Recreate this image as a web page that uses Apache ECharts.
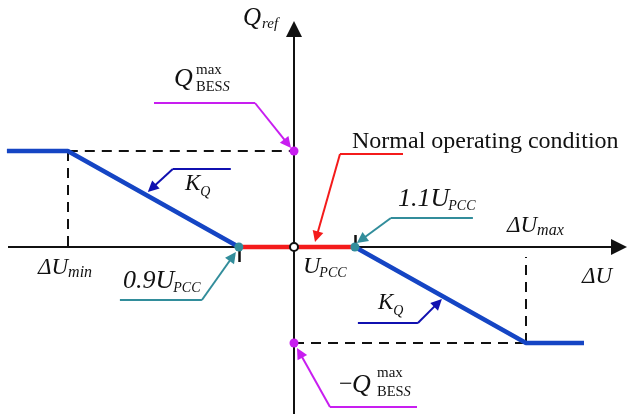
<!DOCTYPE html>
<html>
<head>
<meta charset="utf-8">
<script src="https://cdn.jsdelivr.net/npm/echarts@6/dist/echarts.min.js"></script>
<style>
  html, body { margin: 0; padding: 0; background: #fff; }
  #chart { width: 627px; height: 414px; }
</style>
</head>
<body>
<div id="chart"></div>
<script>
// Q-V droop characteristic of the BESS: breakpoints as voltage deviation (%)
// and reactive power normalised to Q_BESS^max.
const pointNames = ['start', 'dUmin', 'u09', 'u11', 'dUmax', 'end'];
const deviationU = [-49.5, -39, -9.5, 10.5, 40, 50];
const reactiveQ = [1, 1, 0, 0, -1, -1];
const limitQ = [1, -1];          // +Q_BESS^max and -Q_BESS^max on the Q axis

// Plane layout
const W = 627, H = 414;
const OX = 294, OY = 247;        // pixel position of the origin
const PX_U = 5.8, PX_Q = 96;     // pixels per unit along each axis
const toData = (px, py) => [(px - OX) / PX_U, (OY - py) / PX_Q];
const toPx = (u, q) => [OX + u * PX_U, OY - q * PX_Q];
const pt = i => [deviationU[i], reactiveQ[i]];
const idx = name => pointNames.indexOf(name);

const BLUE = '#1545c4', RED = '#f41b1b', TEAL = '#328d9b', MAGENTA = '#c81ef0', NAVY = '#1010b0', INK = '#111';

// Polyline with an arrowhead at its last point; pixel points in, data coords out.
function arrowPath(pxPts, headLen) {
  const plain = [], arrow = [];
  for (let i = 0; i < pxPts.length - 2; i++) {
    plain.push({ coords: [toData(...pxPts[i]), toData(...pxPts[i + 1])] });
  }
  const a = pxPts[pxPts.length - 2], b = pxPts[pxPts.length - 1];
  const dx = b[0] - a[0], dy = b[1] - a[1], len = Math.hypot(dx, dy);
  const end = [b[0] - dx / len * headLen / 2, b[1] - dy / len * headLen / 2];
  arrow.push({ coords: [toData(...a), toData(...end)] });
  return { plain, arrow };
}

// Leader lines: anchored at a point of the characteristic, bends given as pixel offsets.
const leaders = [
  { anchor: [0, limitQ[0]], color: MAGENTA, offs: [[-140, -48], [-39, -48], [-3, -3]] },
  { anchor: pt(idx('dUmin')), color: NAVY, offs: [[163, 18], [105, 18], [80, 41]] },
  { anchor: [0, 0], color: RED, offs: [[109, -93], [46, -93], [21, -5]] },
  { anchor: pt(idx('u11')), color: TEAL, offs: [[118, -29], [36, -29], [2, -4]] },
  { anchor: pt(idx('u09')), color: TEAL, offs: [[-119, 53], [-37, 53], [-3, 5]] },
  { anchor: pt(idx('u11')), color: NAVY, offs: [[3, 76], [63, 76], [87, 52]] },
  { anchor: [0, limitQ[1]], color: MAGENTA, offs: [[123, 64], [36, 64], [3, 5]] }
];

const leaderSeries = [];
leaders.forEach(l => {
  const base = toPx(...l.anchor);
  const pts = l.offs.map(o => [base[0] + o[0], base[1] + o[1]]);
  const p = arrowPath(pts, 11);
  const ls = { color: l.color, width: 2, opacity: 1, curveness: 0 };
  leaderSeries.push({ type: 'lines', coordinateSystem: 'cartesian2d', symbol: 'none', lineStyle: ls, data: p.plain, z: 5, silent: true });
  leaderSeries.push({ type: 'lines', coordinateSystem: 'cartesian2d', symbol: ['none', 'triangle'], symbolSize: [9, 11], lineStyle: ls, data: p.arrow, z: 5, silent: true });
});

// Coordinate axes with arrowheads
const axisLines = [
  { coords: [toData(8, OY), toData(627 - 8, OY)] },
  { coords: [toData(OX, H + 2), toData(OX, 21 + 8)] }
];

// Dashed guides to the saturation corners
const iMin = idx('dUmin'), iMax = idx('dUmax');
const guides = [
  { coords: [pt(iMin), [0, limitQ[0]]] },
  { coords: [pt(iMin), [deviationU[iMin], 0]] },
  { coords: [[0, limitQ[1]], pt(iMax)] },
  { coords: [pt(iMax), [deviationU[iMax], toData(0, 257)[1]]] }
];

// Small ticks at 0.9 U_PCC (below) and 1.1 U_PCC (above)
const ticks = [
  { coords: [pt(idx('u09')), [deviationU[idx('u09')], -15 / PX_Q]] },
  { coords: [pt(idx('u11')), [deviationU[idx('u11')], 12 / PX_Q]] }
];

// Text: math symbols with sub/superscripts placed right after the measured main glyphs
const FONT = '"Liberation Serif", "Times New Roman", serif';
const measureCtx = document.createElement('canvas').getContext('2d');
const fontOf = (size, italic) => (italic ? 'italic ' : '') + size + 'px ' + FONT;
function width(str, size, italic) {
  measureCtx.font = fontOf(size, italic);
  return measureCtx.measureText(str).width;
}
function txt(str, x, base, size, italic, color) {
  return {
    type: 'text', x: x, y: base - 0.34 * size, z: 100, silent: true,
    style: { text: str, font: fontOf(size, italic), fill: color || INK, verticalAlign: 'middle', align: 'left' }
  };
}
// main text followed by a subscript (dy > 0) and/or a superscript
function sym(main, x, base, size, italic, sub, subSize, subDy, subItalic, gap) {
  const out = [txt(main, x, base, size, italic)];
  const sx = x + width(main, size, italic) + (gap || 0);
  out.push(txt(sub, sx, base + subDy, subSize, subItalic));
  return out;
}
// "BESS" with its last letter italic
function bess(x, base, size) {
  return [txt('BES', x, base, size, false), txt('S', x + width('BES', size, false), base, size, true)];
}

const labels = [
  ...sym('Q', 243, 27, 25, true, 'ref', 15, 2, true, 1),
  txt('Q', 174, 88, 26, true), txt('max', 196, 75, 15, false), ...bess(196, 92, 14.5),
  ...sym('K', 185, 192, 23, true, 'Q', 14, 5, true, 0),
  txt('Normal operating condition', 352, 150, 24, false),
  ...sym('1.1U', 398, 208, 26, true, 'PCC', 14, 3, true, -1),
  ...sym('ΔU', 507, 234, 23, true, 'max', 16, 2, true, 0),
  ...sym('U', 303, 275, 24, true, 'PCC', 14, 3, true, -1),
  ...sym('ΔU', 38, 276, 23, true, 'min', 16, 2, true, 0),
  ...sym('0.9U', 123, 290, 26, true, 'PCC', 14, 3, true, -1),
  ...sym('K', 378, 311, 23, true, 'Q', 14, 5, true, 0),
  txt('ΔU', 582, 285, 23, true),
  txt('−', 339, 393, 24, false), txt('Q', 352, 394, 26, true), txt('max', 377, 378, 15, false), ...bess(377, 397, 14.5)
];

const chart = echarts.init(document.getElementById('chart'), null, { renderer: 'canvas' });
chart.setOption({
  animation: false,
  backgroundColor: '#fff',
  grid: { left: 0, right: 0, top: 0, bottom: 0 },
  xAxis: { type: 'value', min: -OX / PX_U, max: (W - OX) / PX_U, show: false },
  yAxis: { type: 'value', min: -(H - OY) / PX_Q, max: OY / PX_Q, show: false },
  graphic: labels,
  series: [
    { type: 'lines', coordinateSystem: 'cartesian2d', symbol: ['none', 'triangle'], symbolSize: [16, 16],
      lineStyle: { color: INK, width: 2, opacity: 1 }, data: axisLines, z: 1, silent: true },
    { type: 'lines', coordinateSystem: 'cartesian2d', symbol: 'none',
      lineStyle: { color: INK, width: 2, opacity: 1, type: [10, 7] }, data: guides, z: 1, silent: true },
    { type: 'lines', coordinateSystem: 'cartesian2d', symbol: 'none',
      lineStyle: { color: INK, width: 2.5, opacity: 1 }, data: ticks, z: 1, silent: true },
    { type: 'line', data: [0, 1, 2].map(pt), symbol: 'none', lineStyle: { color: BLUE, width: 4.5 }, z: 3, silent: true },
    { type: 'line', data: [2, 3].map(pt), symbol: 'none', lineStyle: { color: RED, width: 4.5 }, z: 3, silent: true },
    { type: 'line', data: [3, 4, 5].map(pt), symbol: 'none', lineStyle: { color: BLUE, width: 4.5 }, z: 3, silent: true },
    ...leaderSeries,
    { type: 'scatter', data: [2, 3].map(pt), symbolSize: 9, itemStyle: { color: TEAL, opacity: 1 }, z: 6, silent: true },
    { type: 'scatter', data: limitQ.map(q => [0, q]), symbolSize: 9, itemStyle: { color: MAGENTA, opacity: 1 }, z: 6, silent: true },
    { type: 'scatter', data: [[0, 0]], symbolSize: 8, itemStyle: { color: '#fff', borderColor: INK, borderWidth: 2, opacity: 1 }, z: 6, silent: true }
  ]
});
</script>
</body>
</html>
